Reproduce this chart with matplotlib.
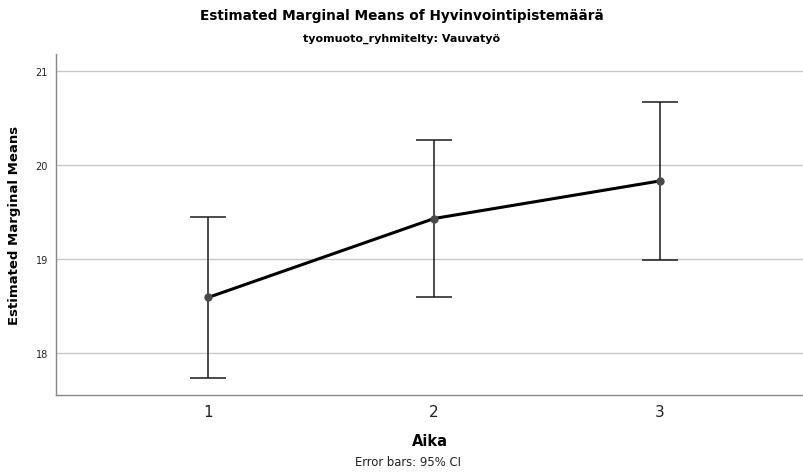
import matplotlib
matplotlib.use("Agg")
import matplotlib.pyplot as plt

# Estimated marginal means with 95% CI per time point
aika = [1, 2, 3]
means = [18.59, 19.43, 19.83]
ci_low = [17.73, 18.59, 18.99]
ci_high = [19.45, 20.26, 20.67]

plt.rcParams['font.family'] = ['DejaVu Sans']

fig = plt.figure(figsize=(8.04, 4.77), dpi=100)
ax = fig.add_axes([0.0697, 0.1705, 0.9303, 0.7142])

err_lo = [m - lo for m, lo in zip(means, ci_low)]
err_hi = [hi - m for m, hi in zip(means, ci_high)]
ax.errorbar(aika, means, yerr=[err_lo, err_hi], fmt='none', ecolor='#1a1a1a',
            elinewidth=1.1, capsize=13, capthick=1.1, zorder=3)
ax.plot(aika, means, color='black', linewidth=2.2, zorder=4)
ax.plot(aika, means, 'o', color='#4a4a4a', markersize=5, zorder=5)

ax.set_xlim(0.327, 3.637)
ax.set_ylim(17.556, 21.18)
ax.set_xticks(aika)
ax.set_xticklabels([str(a) for a in aika], fontsize=11)
ax.set_yticks([18, 19, 20, 21])
ax.set_yticklabels(['18', '19', '20', '21'], fontsize=7)
ax.tick_params(axis='both', length=0, colors='#222222')
ax.tick_params(axis='x', pad=7)
ax.tick_params(axis='y', pad=6)
ax.grid(axis='y', color='#c8c8c8', linewidth=1.0)
ax.set_axisbelow(True)

for side in ['top', 'right']:
    ax.spines[side].set_visible(False)
for side in ['left', 'bottom']:
    ax.spines[side].set_color('#888888')
    ax.spines[side].set_linewidth(1.0)

ax.set_ylabel('Estimated Marginal Means', fontsize=9.5, fontweight='bold', labelpad=10)
ax.set_xlabel('Aika', fontsize=10.5, fontweight='bold', labelpad=10)

fig.text(0.5, 1 - 16 / 477, 'Estimated Marginal Means of Hyvinvointipistemäärä',
         ha='center', va='center', fontsize=9.8, fontweight='bold')
fig.text(0.5, 1 - 39 / 477, 'tyomuoto_ryhmitelty: Vauvatyö',
         ha='center', va='center', fontsize=8, fontweight='bold')
fig.text(0.507, 1 - 463 / 477, 'Error bars: 95% CI',
         ha='center', va='center', fontsize=8.4, color='#222222')

fig.savefig('out.png', dpi=100, facecolor='white')
